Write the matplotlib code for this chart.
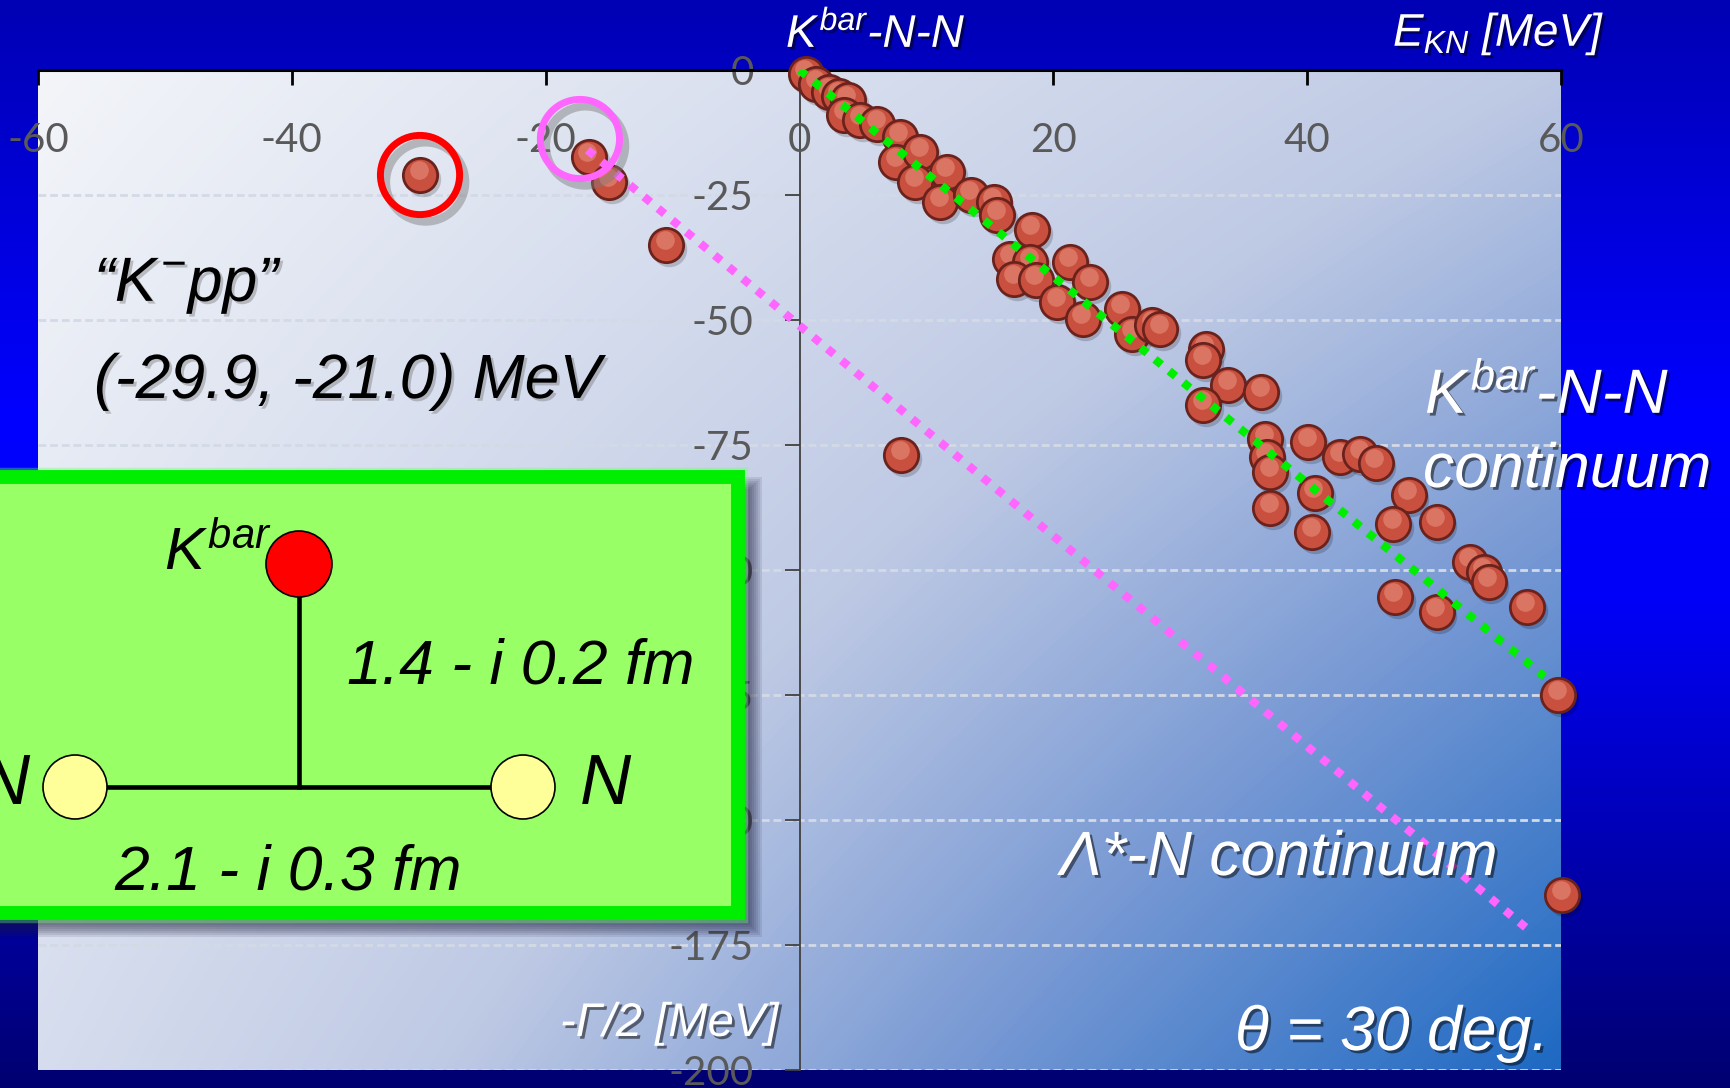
import numpy as np
import matplotlib
matplotlib.use("Agg")
import matplotlib.pyplot as plt
import matplotlib.patheffects as pe
import matplotlib.transforms as mtransforms
from matplotlib.colors import LinearSegmentedColormap
from matplotlib.patches import Rectangle, Circle

plt.rcParams['font.family'] = ['Liberation Sans', 'DejaVu Sans']
plt.rcParams['mathtext.fontset'] = 'custom'
plt.rcParams['mathtext.rm'] = 'Liberation Sans:italic'
plt.rcParams['mathtext.it'] = 'Liberation Sans:italic'
plt.rcParams['mathtext.bf'] = 'Liberation Sans:bold:italic'

# complex-scaled eigenvalues: real energy E_KN and -Gamma/2 (MeV)
e_kn = [-29.9, -16.6, -15.0, -10.5,
        0.5, 1.3, 2.3, 3.1, 3.8, 3.5, 4.8, 6.1, 7.9, 7.6, 9.5, 9.1,
        11.6, 11.1, 13.5, 15.3, 15.6, 18.3, 16.6, 18.2, 16.9, 18.6,
        21.3, 22.9, 20.3, 22.3, 25.4, 26.2, 27.8, 28.4, 32.0, 31.8,
        33.8, 36.4, 31.8, 8.0, 36.7, 36.8, 37.1, 40.1, 42.6, 44.2,
        45.4, 37.1, 40.6, 40.4, 48.0, 46.8, 50.2, 52.8, 53.9, 54.3,
        46.9, 50.2, 57.3, 59.8, 60.1]
neg_half_width = [-21.0, -17.4, -22.4, -35.0,
                  -0.7, -2.7, -4.3, -5.2, -6.0, -9.0, -10.0, -10.7, -13.3, -18.3, -16.3, -22.3,
                  -20.3, -26.3, -25.0, -26.3, -29.0, -32.0, -37.7, -38.3, -41.7, -42.0,
                  -38.3, -42.3, -46.3, -49.7, -47.7, -52.7, -51.0, -51.7, -55.7, -58.0,
                  -63.0, -64.3, -67.0, -77.0, -73.7, -77.3, -80.3, -74.3, -77.3, -76.8,
                  -78.5, -87.5, -84.5, -92.3, -85.0, -90.7, -90.3, -98.3, -100.3, -102.3,
                  -105.3, -108.3, -107.3, -125.0, -165.0]

kpp_pole = (-29.9, -21.0)
lambda_ring = (-17.3, -13.8)

x_ticks = [-60, -40, -20, 0, 20, 40, 60]
y_ticks = [0, -25, -50, -75, -100, -125, -150, -175, -200]

# rotated continua for theta = 30 deg
kbar_nn_cont_x = [0.0, 58.7]
kbar_nn_cont_y = [0.0, -121.3]
lambda_n_cont_x = [-16.7, 57.8]
lambda_n_cont_y = [-16.0, -172.7]

W, H = 1730, 1088
fig = plt.figure(figsize=(W / 100, H / 100), dpi=100)

# slide background
bg = fig.add_axes([0, 0, 1, 1], zorder=0)
slide_cmap = LinearSegmentedColormap.from_list(
    'slide', [(0, '#0000b4'), (0.38, '#0000ff'), (0.55, '#0000f8'), (1, '#000070')])
bg.imshow(np.linspace(0, 1, 256)[:, None], cmap=slide_cmap, aspect='auto',
          extent=(0, 1, 0, 1))
bg.set_xlim(0, 1)
bg.set_ylim(0, 1)
bg.axis('off')

# chart
ax = fig.add_axes([38 / W, 1 - 1070 / H, (1561 - 38) / W, 1000 / H], zorder=1)
plot_cmap = LinearSegmentedColormap.from_list(
    'plot', [(0, '#f3f5f9'), (0.45, '#bec9e4'), (0.7, '#7899d4'), (1, '#1e69c3')])
u, v = np.meshgrid(np.linspace(0, 1, 400), np.linspace(0, 1, 300))
shade = 0.45 * u + 0.25 * v + 0.3 * u * v
ax.imshow(shade, cmap=plot_cmap, vmin=0, vmax=1, aspect='auto',
          extent=(-60, 60, -200, 0), interpolation='bilinear', zorder=0)
ax.set_xlim(-60, 60)
ax.set_ylim(-200, 0)

for s in ['right', 'bottom']:
    ax.spines[s].set_visible(False)
ax.spines['top'].set_color('black')
ax.spines['top'].set_linewidth(2.2)
ax.spines['left'].set_position(('data', 0))
ax.spines['left'].set_color('#404040')
ax.spines['left'].set_linewidth(1.3)

ax.set_xticks(x_ticks)
ax.xaxis.set_ticks_position('top')
ax.tick_params(axis='x', direction='in', length=11, width=2, color='black',
               labeltop=False, labelbottom=False)
ax.set_yticks(y_ticks)
ax.set_yticklabels([str(t) for t in y_ticks], family='Lato')
ax.tick_params(axis='y', direction='out', length=11, width=1.3, color='#404040',
               pad=22, labelsize=29, labelcolor='#595959')

ax.yaxis.grid(True, color='#d3dae6', lw=2, ls=(0, (2.8, 1.4)))
ax.set_axisbelow(True)

xlab_tr = mtransforms.blended_transform_factory(ax.transData, ax.transAxes)
for t in x_ticks:
    ax.text(t, 0.93, str(t), transform=xlab_tr, ha='center', va='center',
            fontsize=29, color='#595959', family='Lato')

# eigenvalue markers with a little shading
shadow_off = ax.transData + mtransforms.ScaledTranslation(2 / 72, -3 / 72, fig.dpi_scale_trans)
shine_off = ax.transData + mtransforms.ScaledTranslation(-1 / 72, 3.5 / 72, fig.dpi_scale_trans)
for i, (x, y) in enumerate(zip(e_kn, neg_half_width)):
    z = 5 + i * 0.01
    ax.scatter([x], [y], s=650, color='black', alpha=0.18, lw=0,
               transform=shadow_off, zorder=z, clip_on=False)
    ax.scatter([x], [y], s=610, color='#c94f3e', edgecolors='#6a221d',
               linewidths=2.0, zorder=z + 0.003, clip_on=False)
    ax.scatter([x], [y], s=180, color='#ee9c88', alpha=0.5, lw=0,
               transform=shine_off, zorder=z + 0.006, clip_on=False)

# continuum lines
ax.plot(kbar_nn_cont_x, kbar_nn_cont_y, color='#00ee00', lw=6,
        ls=(0, (1, 1.2)), dash_capstyle='butt', zorder=8)
ax.plot(lambda_n_cont_x, lambda_n_cont_y, color='#ff66ff', lw=6,
        ls=(0, (1, 1.2)), dash_capstyle='butt', zorder=8)

# highlight rings
ring_off = ax.transData + mtransforms.ScaledTranslation(4 / 72, -5 / 72, fig.dpi_scale_trans)
for (cx, cy), col in [(kpp_pole, '#ff0000'), (lambda_ring, '#ff66ff')]:
    ax.scatter([cx], [cy], s=3250, facecolors='none', edgecolors='#7a7a7a',
               alpha=0.45, linewidths=6, transform=ring_off, zorder=9)
    ax.scatter([cx], [cy], s=3250, facecolors='none', edgecolors=col,
               linewidths=5, zorder=9.5)

# annotations in pixel coordinates
ov = fig.add_axes([0, 0, 1, 1], zorder=2)
ov.set_xlim(0, W)
ov.set_ylim(H, 0)
ov.axis('off')

white_fx = [pe.withSimplePatchShadow(offset=(2, -2), shadow_rgbFace='black', alpha=0.5)]
black_fx = [pe.withSimplePatchShadow(offset=(2, -2), shadow_rgbFace='#606060', alpha=0.35)]


def label(x, y, s, size, color, fx):
    ov.text(x, y, s, fontsize=size, color=color, style='italic',
            ha='left', va='baseline', path_effects=fx)


label(786, 47, r'$K^{bar}$-N-N', 33, 'white', white_fx)
label(1393, 46, r'$E_{KN}$ [MeV]', 33, 'white', white_fx)
label(94, 301, r'“$K^{-}$pp”', 45, 'black', black_fx)
label(94, 398, '(-29.9, -21.0) MeV', 45, 'black', black_fx)
label(1425, 413, r'$K^{bar}$-N-N', 45, 'white', white_fx)
label(1423, 487, 'continuum', 45, 'white', white_fx)
label(1060, 875, 'Λ*-N continuum', 45, 'white', white_fx)
label(1235, 1050, 'θ = 30 deg.', 45, 'white', white_fx)
label(560, 1036, '-Γ/2 [MeV]', 34, 'white', white_fx)

# three-body picture
bx0, by0, bx1, by1 = -20, 477, 738, 913
for g in np.linspace(0, 12, 7):
    ov.add_patch(Rectangle((bx0 + 12 - g, by0 + 12 - g), bx1 - bx0 + 2 * g, by1 - by0 + 2 * g,
                           facecolor='#1a1a3a', edgecolor='none', alpha=0.1, zorder=1))
ov.add_patch(Rectangle((bx0, by0), bx1 - bx0, by1 - by0, facecolor='none',
                       edgecolor='#66ff66', lw=14, alpha=0.35, zorder=2))
ov.add_patch(Rectangle((bx0, by0), bx1 - bx0, by1 - by0, facecolor='#99ff66',
                       edgecolor='#00ee00', lw=10, zorder=3))

kbar_xy = (299, 564)
n_left_xy = (75, 787)
n_right_xy = (523, 787)
ov.plot([kbar_xy[0], kbar_xy[0]], [kbar_xy[1], n_left_xy[1]], color='black', lw=3.3, zorder=4)
ov.plot([n_left_xy[0], n_right_xy[0]], [n_left_xy[1], n_right_xy[1]], color='black', lw=3.3, zorder=4)
ov.add_patch(Circle(kbar_xy, 33, facecolor='#ff0000', edgecolor='black', lw=1.2, zorder=5))
ov.add_patch(Circle(n_left_xy, 32, facecolor='#ffff99', edgecolor='black', lw=1.2, zorder=5))
ov.add_patch(Circle(n_right_xy, 32, facecolor='#ffff99', edgecolor='black', lw=1.2, zorder=5))

ov.text(164, 570, r'$K^{bar}$', fontsize=43, color='black', ha='left', va='baseline', zorder=6)
ov.text(347, 684, '1.4 - i 0.2 fm', fontsize=45, style='italic', color='black',
        ha='left', va='baseline', zorder=6)
ov.text(114, 889, '2.1 - i 0.3 fm', fontsize=45, style='italic', color='black',
        ha='left', va='baseline', zorder=6)
ov.text(580, 804, 'N', fontsize=51, style='italic', color='black',
        ha='left', va='baseline', zorder=6)
ov.text(30, 804, 'N', fontsize=51, style='italic', color='black',
        ha='right', va='baseline', zorder=6)

fig.savefig('out.png', dpi=100)
